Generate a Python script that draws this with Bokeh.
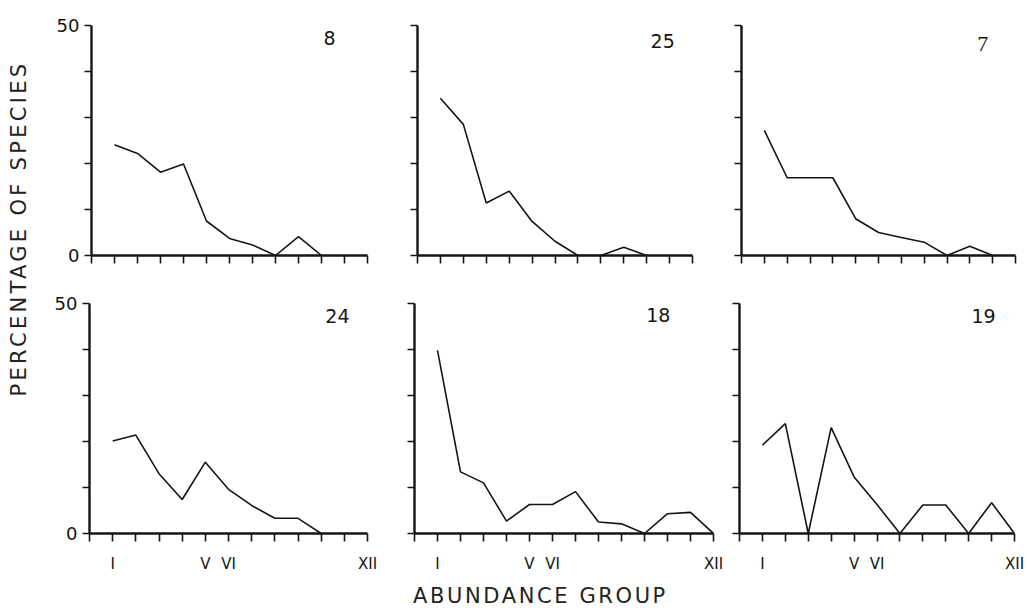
import math
from bokeh.plotting import figure
from bokeh.layouts import row, column
from bokeh.models import Range1d, FixedTicker
from bokeh.core.properties import value
from bokeh.embed import file_html
from bokeh.resources import INLINE

# ---------------- data ----------------
roman_labels = {1: "I", 5: "V", 6: "VI"}
y_ticks = [0, 10, 20, 30, 40, 50]
y_tick_labels = {0: "0", 50: "50"}

panel_ids = ["8", "25", "7", "24", "18", "19"]

# percentage of species per abundance group (I, II, III, ...)
pct_8 = [24.1, 22.2, 18.1, 19.9, 7.5, 3.7, 2.3, 0, 4.1, 0]
pct_25 = [34.2, 28.5, 11.4, 14.0, 7.4, 3.1, 0, 0, 1.8, 0]
pct_7 = [27.2, 16.9, 16.9, 16.9, 8.0, 5.0, 3.9, 2.9, 0, 2.0, 0]
pct_24 = [20.1, 21.4, 13.0, 7.4, 15.5, 9.6, 6.1, 3.3, 3.3, 0]
pct_18 = [39.8, 13.4, 11.0, 2.7, 6.3, 6.3, 9.1, 2.5, 2.1, 0, 4.3, 4.6, 0]
pct_19 = [19.2, 23.9, 0, 23.0, 12.3, 6.3, 0, 6.2, 6.2, 0, 6.7, 0]

# number of tick marks after the origin on each panel's x axis
n_ticks = [12, 12, 12, 12, 13, 12]

# ---------------- layout / style ----------------
FONT = "DejaVu Sans"
LEFT_W = 40
FRAME_H = 230
INK = "#151515"

# (border_left, frame_width, border_right, border_top, border_bottom)
geom = [
    (51, 276, 25, 25, 24),
    (25, 275, 25, 25, 24),
    (24, 274, 12, 25, 24),
    (49, 278, 22, 24, 45),
    (25, 299, 13, 24, 45),
    (13, 275, 13, 24, 45),
]
# panel number label positions (data units) and fonts
num_pos = [(10.35, 47.2), (10.7, 46.6), (10.57, 45.9), (10.7, 47.3), (10.6, 47.5), (10.65, 47.3)]
num_font = ["DejaVu Sans", "DejaVu Sans", "Liberation Serif", "DejaVu Sans", "DejaVu Sans", "DejaVu Sans"]
num_size = ["19px", "19px", "22px", "19px", "19px", "19px"]

series = [pct_8, pct_25, pct_7, pct_24, pct_18, pct_19]


def make_panel(i):
    bl, fw, br, bt, bb = geom[i]
    nt = n_ticks[i]
    first_col = i in (0, 3)
    bottom_row = i >= 3
    p = figure(frame_width=fw, frame_height=FRAME_H,
               x_range=Range1d(0, nt), y_range=Range1d(0, 50),
               output_backend="svg", toolbar_location=None,
               min_border_left=bl, min_border_right=br,
               min_border_top=bt, min_border_bottom=bb)
    p.outline_line_color = None
    p.grid.visible = False
    p.background_fill_color = "white"
    p.border_fill_color = "white"

    vals = series[i]
    xs = list(range(1, len(vals) + 1))
    p.line(xs, vals, line_color=INK, line_width=1.6)

    xa = p.xaxis[0]
    xa.ticker = FixedTicker(ticks=list(range(nt + 1)), minor_ticks=[])
    labels = dict(roman_labels)
    labels[nt] = "XII"
    xa.major_label_overrides = {t: (labels.get(t, "") if bottom_row else "") for t in range(nt + 1)}
    xa.axis_line_width = 2.4
    xa.axis_line_color = INK
    xa.major_tick_line_width = 1.6
    xa.major_tick_line_color = INK
    xa.major_tick_in = 0
    xa.major_tick_out = 8
    xa.minor_tick_line_color = None
    xa.major_label_text_font = FONT
    xa.major_label_text_color = INK
    if bottom_row:
        xa.major_label_text_font_size = "15px"
        xa.major_label_standoff = 13
    else:
        xa.major_label_text_font_size = "0px"
        xa.major_label_standoff = 0

    ya = p.yaxis[0]
    ya.ticker = FixedTicker(ticks=y_ticks, minor_ticks=[])
    ya.major_label_overrides = {t: (y_tick_labels.get(t, "") if first_col else "") for t in y_ticks}
    ya.axis_line_width = 2.4
    ya.axis_line_color = INK
    ya.major_tick_line_width = 1.6
    ya.major_tick_line_color = INK
    ya.major_tick_in = 0
    ya.major_tick_out = 7
    ya.minor_tick_line_color = None
    ya.major_label_text_font = FONT
    ya.major_label_text_color = INK
    if first_col:
        ya.major_label_text_font_size = "18px"
        ya.major_label_standoff = 5
    else:
        ya.major_label_text_font_size = "0px"
        ya.major_label_standoff = 0

    nx, ny = num_pos[i]
    p.text(x=[nx], y=[ny], text=[panel_ids[i]], text_font=value(num_font[i]),
           text_font_size=num_size[i], text_align="center", text_baseline="middle",
           text_color=INK)
    return p


panels = [make_panel(i) for i in range(6)]

row1_h = 25 + FRAME_H + 24
row2_h = 24 + FRAME_H + 45
bottom_h = 610 - row1_h - row2_h
right_w = 1027 - LEFT_W

YT = "PERCENTAGE OF SPECIES"
XT = "ABUNDANCE GROUP"
Y_LS = 3.3
X_LS = 2.6

# y-axis title figure
left = figure(width=LEFT_W, height=610, x_range=Range1d(0, LEFT_W), y_range=Range1d(0, 610),
              output_backend="svg", toolbar_location=None, min_border=0,
              styles={"letter-spacing": f"{Y_LS}px"})
left.axis.visible = False
left.grid.visible = False
left.outline_line_color = None
left.text(x=[18], y=[610 - (228 + len(YT) * Y_LS / 2)], text=[YT], angle=math.pi / 2,
          text_font=value(FONT), text_font_size="21px", text_align="center",
          text_baseline="middle", text_color="#222222")

# x-axis title figure
bottom = figure(width=right_w, height=bottom_h, x_range=Range1d(0, right_w), y_range=Range1d(0, bottom_h),
                output_backend="svg", toolbar_location=None, min_border=0,
                styles={"letter-spacing": f"{X_LS}px"})
bottom.axis.visible = False
bottom.grid.visible = False
bottom.outline_line_color = None
bottom.text(x=[540 - LEFT_W - len(XT) * X_LS / 2], y=[bottom_h - 17], text=[XT],
            text_font=value(FONT), text_font_size="21px", text_align="center",
            text_baseline="middle", text_color="#222222")

layout = row(left, column(row(*panels[:3]), row(*panels[3:]), bottom))

open("out.html", "w").write(file_html(layout, INLINE))
